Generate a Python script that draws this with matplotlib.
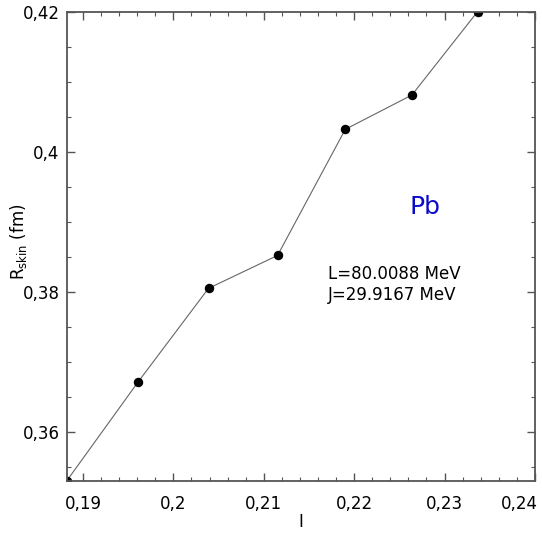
import numpy as np
import matplotlib
matplotlib.use("Agg")
import matplotlib.pyplot as plt
from matplotlib.ticker import FuncFormatter, MultipleLocator

# Datos: asimetria de isospin I y espesor de piel
I_vals = [0.1882, 0.19608, 0.20389, 0.21153, 0.21902, 0.22639, 0.23365]
R_skin = [0.3530, 0.3671, 0.3805, 0.3852, 0.4032, 0.4081, 0.4200]

L_txt = "L=80.0088 MeV"
J_txt = "J=29.9167 MeV"
nucleo = "Pb"
x_fin = 0.24  # ultima etiqueta del eje x, se corre a la izquierda

def coma(v, pos):
    if abs(v - x_fin) < 1e-6:
        return ""
    s = f"{v:.3f}".rstrip("0").rstrip(".")
    return s.replace(".", ",")

fig = plt.figure(figsize=(5.42, 5.33), dpi=100)
ax = fig.add_axes([0.123, 0.0976, 0.864, 0.8805])

ax.plot(I_vals, R_skin, color="#666666", lw=0.8, marker="o",
        markersize=5.8, markerfacecolor="black", markeredgecolor="black")

ax.set_xlim(0.1882, 0.2400)
ax.set_ylim(0.3530, 0.4200)

ax.xaxis.set_major_locator(MultipleLocator(0.01))
ax.xaxis.set_minor_locator(MultipleLocator(0.002))
ax.yaxis.set_major_locator(MultipleLocator(0.02))
ax.yaxis.set_minor_locator(MultipleLocator(0.005))
ax.xaxis.set_major_formatter(FuncFormatter(coma))
ax.yaxis.set_major_formatter(FuncFormatter(coma))

ax.tick_params(which="both", direction="in", top=True, right=True,
               color="#555555", labelsize=12)
ax.tick_params(which="major", length=6, width=1)
ax.tick_params(which="minor", length=3, width=0.8)
ax.tick_params(axis="x", pad=10)
ax.tick_params(axis="y", pad=5)

for s in ax.spines.values():
    s.set_color("#555555")
    s.set_linewidth(1.3)

# etiqueta 0,24 alineada a la derecha para que no se corte
ax.annotate(f"{x_fin}".replace(".", ","), xy=(x_fin, 0),
            xycoords=("data", "axes fraction"), xytext=(2.2, -10),
            textcoords="offset points", ha="right", va="top", fontsize=12)

ax.set_xlabel("I", fontsize=12)
ax.xaxis.set_label_coords(0.5, -0.069)
ax.set_ylabel(r"R$_{\mathrm{skin}}$ (fm)", fontsize=12)
ax.yaxis.set_label_coords(-0.08, 0.51)

ax.text(0.2261, 0.3921, nucleo, color="#0a0ac8", fontsize=18,
        ha="left", va="center")
ax.text(0.2171, 0.3811, L_txt + "\n" + J_txt, fontsize=12,
        ha="left", va="center")

fig.savefig("out.png", dpi=100)
